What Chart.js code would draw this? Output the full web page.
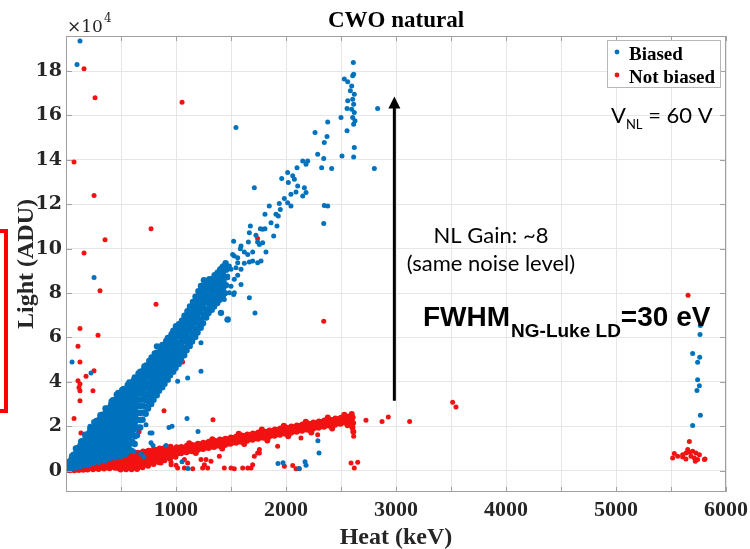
<!DOCTYPE html>
<html>
<head>
<meta charset="utf-8">
<script src="https://cdn.jsdelivr.net/npm/chart.js@4.4.0/dist/chart.umd.min.js"></script>
<style>
  body { margin: 0; background: #fff; }
  canvas { display: block; }
</style>
</head>
<body>
<canvas id="cwoChart" width="750" height="549"></canvas>
<script>
// Axis ticks (heat in keV, light in units of 1e4 ADU)
const heatTicks = [500, 1000, 1500, 2000, 2500, 3000, 3500, 4000, 4500, 5000, 5500, 6000];
const lightTicks = [0, 2, 4, 6, 8, 10, 12, 14, 16, 18];

// Biased: dense fan near the origin, 0-1000 keV
const biasedFan = [
  [12,0.06],[18,0.22],[25,0.35],[31,0.15],[29,0.4],
  [46,0.1],[52,0.3],[48,0.5],[55,0.65],
  [70,0.22],[72,0.48],[69,0.72],
  [86,0.14],[93,0.36],[88,0.58],[95,0.8],[90,1.0],
  [110,0.25],[112,0.5],[109,0.76],[111,1.02],
  [126,0.2],[133,0.44],[128,0.68],[136,0.92],[131,1.14],[138,1.32],
  [150,0.32],[152,0.58],[149,0.84],[151,1.1],[153,1.34],
  [166,0.25],[173,0.5],[168,0.75],[176,1.0],[171,1.22],[178,1.44],[174,1.62],
  [190,0.4],[192,0.66],[189,0.92],[191,1.16],[193,1.4],[190,1.62],
  [206,0.3],[213,0.55],[208,0.8],[216,1.05],[211,1.28],[218,1.5],[214,1.72],[221,1.9],
  [230,0.44],[232,0.7],[229,0.96],[231,1.22],[233,1.46],[230,1.7],[232,1.92],
  [246,0.35],[253,0.6],[248,0.85],[256,1.1],[251,1.35],[258,1.58],[254,1.8],[261,2.0],[257,2.18],
  [275,0.5],[277,0.78],[274,1.04],[276,1.3],[278,1.54],[275,1.78],[277,2.02],[276,2.24],
  [296,0.4],[303,0.66],[298,0.92],[306,1.18],[301,1.42],[308,1.66],[304,1.9],[311,2.12],[307,2.32],[313,2.5],
  [325,0.54],[327,0.8],[324,1.06],[326,1.32],[328,1.58],[325,1.82],[327,2.06],[326,2.3],[328,2.52],
  [346,0.45],[353,0.72],[348,0.98],[356,1.24],[351,1.5],[358,1.74],[354,1.98],[361,2.2],[357,2.42],[363,2.62],[359,2.8],
  [375,0.6],[377,0.86],[374,1.12],[376,1.38],[378,1.62],[375,1.86],[377,2.1],[376,2.34],[378,2.58],[376,2.8],
  [396,0.55],[403,0.82],[398,1.08],[406,1.34],[401,1.6],[408,1.86],[404,2.1],[411,2.34],[407,2.56],[413,2.78],[409,2.96],[415,3.12],
  [425,0.7],[427,0.98],[424,1.26],[426,1.54],[428,1.8],[425,2.06],[427,2.3],[426,2.54],[428,2.78],[426,3.0],[427,3.18],
  [446,0.6],[453,0.88],[448,1.16],[456,1.44],[451,1.7],[458,1.96],[454,2.2],[461,2.44],[457,2.68],[463,2.9],[459,3.1],[465,3.28],[461,3.42],
  [475,0.76],[477,1.04],[474,1.32],[476,1.6],[478,1.86],[475,2.12],[477,2.38],[476,2.62],[478,2.86],[476,3.08],[477,3.3],[475,3.5],
  [496,0.66],[503,0.95],[498,1.24],[506,1.52],[501,1.8],[508,2.06],[504,2.32],[511,2.56],[507,2.8],[513,3.02],[509,3.24],[515,3.44],[511,3.64],
  [525,0.84],[527,1.12],[524,1.42],[526,1.7],[528,1.98],[525,2.24],[527,2.5],[526,2.76],[528,3.0],[526,3.24],[527,3.46],[525,3.68],
  [546,0.75],[553,1.05],[548,1.35],[556,1.64],[551,1.92],[558,2.2],[554,2.46],[561,2.72],[557,2.96],[563,3.2],[559,3.42],[565,3.64],[561,3.86],
  [575,0.95],[577,1.2],[574,1.5],[576,1.8],[578,2.08],[575,2.36],[577,2.62],[576,2.88],[578,3.12],[576,3.36],[577,3.58],[575,3.8],[576,3.98],
  [596,0.9],[603,1.3],[598,1.7],[606,2.0],[601,2.3],[608,2.58],[604,2.84],[611,3.1],[607,3.36],[613,3.6],[609,3.84],[615,4.06],
  [625,1.2],[627,1.55],[624,1.88],[626,2.18],[628,2.46],[625,2.74],[627,3.0],[626,3.26],[628,3.52],[626,3.76],[627,3.98],[625,4.2],
  [646,1.6],[653,1.95],[648,2.3],[656,2.6],[651,2.9],[658,3.18],[654,3.46],[661,3.72],[657,3.96],[663,4.2],[659,4.38],
  [675,1.95],[677,2.28],[674,2.6],[676,2.9],[678,3.2],[675,3.48],[677,3.74],[676,4.0],[678,4.24],[676,4.46],
  [696,2.3],[703,2.62],[698,2.94],[706,3.24],[701,3.52],[708,3.8],[704,4.06],[711,4.32],[707,4.54],[713,4.7],
  [725,2.56],[727,2.88],[724,3.18],[726,3.46],[728,3.74],[725,4.0],[727,4.26],[726,4.5],[728,4.74],
  [746,2.8],[753,3.12],[748,3.42],[756,3.7],[751,3.98],[758,4.24],[754,4.5],[761,4.74],[757,4.94],
  [775,3.0],[777,3.32],[774,3.62],[776,3.9],[778,4.18],[775,4.44],[777,4.7],[776,4.94],[778,5.1],
  [796,3.2],[803,3.52],[798,3.82],[806,4.1],[801,4.38],[808,4.64],[804,4.9],[811,5.12],[807,5.28],
  [825,3.4],[827,3.72],[824,4.02],[826,4.3],[828,4.58],[825,4.84],[827,5.1],[826,5.32],
  [846,3.6],[853,3.92],[848,4.22],[856,4.5],[851,4.78],[858,5.04],[854,5.3],[861,5.52],
  [875,3.76],[877,4.08],[874,4.38],[876,4.66],[878,4.94],[875,5.2],[877,5.44],[876,5.66],
  [896,3.92],[903,4.24],[898,4.54],[906,4.82],[901,5.1],[908,5.36],[904,5.62],[911,5.84],
  [925,4.1],[927,4.42],[924,4.72],[926,5.0],[928,5.28],[925,5.54],[927,5.78],[926,5.98],
  [946,4.3],[953,4.62],[948,4.92],[956,5.2],[951,5.48],[958,5.74],[954,5.98],[961,6.16],
  [975,4.46],[977,4.78],[974,5.08],[976,5.36],[978,5.64],[975,5.9],[977,6.14],[976,6.3],
  [996,4.62],[1003,4.94],[998,5.24],[1006,5.52],[1001,5.8],[1008,6.06],[1004,6.3],[1011,6.46]
];

// Biased: main band 1000-1500 keV
const biasedBand = [
  [1025,4.8],[1027,5.12],[1024,5.44],[1026,5.76],[1028,6.06],[1025,6.34],[1027,6.6],
  [1046,5.0],[1053,5.32],[1048,5.62],[1056,5.92],[1051,6.22],[1058,6.5],[1054,6.76],
  [1075,5.2],[1077,5.52],[1074,5.84],[1076,6.14],[1078,6.44],[1075,6.72],[1077,6.98],
  [1096,5.42],[1103,5.74],[1098,6.06],[1106,6.36],[1101,6.66],[1108,6.94],[1104,7.18],
  [1125,5.62],[1127,5.96],[1124,6.28],[1126,6.58],[1128,6.88],[1125,7.16],[1127,7.4],
  [1146,5.82],[1153,6.16],[1148,6.48],[1156,6.8],[1151,7.1],[1158,7.38],[1154,7.6],
  [1175,6.02],[1177,6.36],[1174,6.7],[1176,7.02],[1178,7.32],[1175,7.6],[1177,7.84],
  [1196,6.22],[1203,6.56],[1198,6.9],[1206,7.22],[1201,7.52],[1208,7.82],[1204,8.08],
  [1225,6.44],[1227,6.8],[1224,7.14],[1226,7.46],[1228,7.78],[1225,8.06],[1227,8.32],
  [1246,6.64],[1253,7.0],[1248,7.34],[1256,7.66],[1251,7.98],[1258,8.3],[1254,8.58],
  [1275,6.9],[1277,7.24],[1274,7.58],[1276,7.9],[1278,8.2],[1275,8.5],
  [1296,7.1],[1304,7.45],[1299,7.8],[1306,8.15],[1301,8.45],
  [1325,7.25],[1327,7.6],[1324,7.95],[1326,8.3],[1328,8.62],
  [1346,7.4],[1354,7.75],[1349,8.1],[1356,8.45],[1351,8.8],
  [1375,7.55],[1377,7.9],[1374,8.25],[1376,8.6],[1378,8.92],
  [1396,7.7],[1404,8.05],[1399,8.4],[1406,8.75],[1401,9.05],
  [1425,7.85],[1427,8.2],[1424,8.55],[1426,8.9],[1428,9.2],
  [1446,8.0],[1454,8.35],[1449,8.7],[1456,9.05],[1451,9.35],
  [1303,8.62],[1348,8.31],[1258,8.16],[1288,7.86],[1197,7.71],[1227,7.49],[1152,7.41],
  [1167,7.11],[1106,7.04],[1076,6.81],[1136,6.73],[1045,6.51],[1000,6.51],[1091,6.36],
  [1015,6.21],[955,6.06],[985,5.83],[924,5.76],[1409,7.11],[1318,7.34],[1470,6.81],[827,5.6]
];

// Biased: upper band 1250-2630 keV and the cluster at ~2600 keV
const biasedUpper = [
  [2612,18.39],[2530,17.64],[2561,17.52],[2606,17.79],[2615,17.86],[2597,17.33],[2585,17.11],
  [2621,16.96],[2606,16.73],[2561,16.66],[2615,16.51],[2597,16.28],[2555,16.31],[2621,16.13],
  [2606,15.91],[2627,15.76],[2615,15.61],[2500,15.91],[2555,15.31],[2621,14.56],[2509,14.18],
  [2615,14.13],[2379,15.71],[2264,15.23],[2348,14.78],[2373,15.05],[2288,14.25],[2343,14.06],
  [2324,13.65],[2415,13.61],[2197,13.95],[2182,13.8],[2152,13.95],[2100,13.65],[2015,13.43],
  [1961,13.16],[2021,12.98],[2061,13.28],[2076,13.13],[2106,12.82],[2091,12.55],[2167,12.75],
  [2182,12.53],[2152,12.37],[2045,12.45],[1985,12.26],[1939,12.04],[1848,11.92],[2015,12.07],
  [2045,11.92],[1948,11.77],[1930,11.47],[1909,11.55],[1809,11.55],[1864,11.17],[1918,11.02],
  [1767,10.9],[1788,10.87],[1809,10.9],[1888,10.57],[1727,10.6],[1676,11.02],[1658,10.3],
  [1742,10.3],[1758,10.19],[1788,10.27],[1524,10.34],[1585,10.0],[1621,9.85],[1697,9.85],
  [1818,9.85],[1515,9.74],[1561,9.59],[1667,9.4],[1697,9.44],[1742,9.37],[1773,9.44],
  [1621,9.34],[1455,9.14],[1485,9.22],[1545,9.14],[1591,9.07],[1409,8.92],[1424,8.69],
  [1470,8.77],[1530,8.62],[1561,8.8],[1318,8.65],[1379,8.43],[1439,8.49],[1500,8.31],
  [1591,8.39],[1348,8.16],[1424,8.16],[1485,8.02],[1530,8.02],[1273,7.94],[1318,7.79],
  [1258,7.71],[1379,7.56],[1439,7.71],[1524,7.94],[1667,7.79],
  [1667,10.72],[1591,10.12],[1652,9.74],[1530,9.67],[1561,9.37],[1500,9.07],[1409,9.14],
  [1470,8.69],[1379,8.62]
];

// Biased: isolated events
const biasedSparse = [
  [127,19.35],[100,18.3],[1545,15.46],[255,8.7],[55,4.9],[227,4.4],[2833,16.31],[2803,13.61],
  [1712,12.75],[2348,11.95],[2379,11.92],[2343,11.13],[1718,7.1],[1464,6.8],[1227,5.76],
  [1227,4.48],[1015,4.03],[1106,4.18],[1100,2.35],[1200,1.76],[964,2.0],[936,1.94],[727,2.07],
  [218,2.0],[764,1.7],[782,1.7],[773,1.26],[791,1.13],[909,1.13],[709,0.63],[620,0.85],
  [680,0.75],[1055,0.4],[1109,0.1],[1927,0.32],[1973,0.36],[2118,0.1],[2173,0.4],[2182,0.24],
  [2290,1.35],[2300,0.8]
];

// Biased: events near 5700 keV
const biasedRight = [
  [5767,6.54],[5764,6.13],[5697,5.28],[5761,5.11],[5742,4.89],[5742,4.1],[5758,3.83],
  [5736,3.61],[5767,2.5],[5697,2.03]
];

// Not biased: base of the band, 0-1000 keV
const notBiasedBase = [
  [8,0.04],[12,0.16],[6,0.26],[22,0.1],[24,0.3],
  [36,0.02],[42,0.14],[38,0.26],[44,0.36],
  [60,0.08],[62,0.22],[58,0.34],
  [76,0.02],[83,0.14],[78,0.26],[85,0.38],
  [100,0.08],[102,0.22],[98,0.36],
  [116,0.03],[123,0.15],[118,0.27],[125,0.4],
  [140,0.1],[142,0.24],[138,0.38],
  [156,0.04],[163,0.17],[158,0.3],[165,0.44],
  [180,0.1],[182,0.25],[178,0.4],
  [196,0.05],[203,0.18],[198,0.32],[205,0.46],
  [225,0.12],[227,0.27],[223,0.44],
  [246,0.06],[253,0.2],[248,0.34],[256,0.5],
  [275,0.14],[277,0.29],[273,0.46],
  [296,0.08],[303,0.22],[298,0.37],[306,0.53],
  [325,0.16],[327,0.31],[323,0.49],
  [346,0.1],[353,0.24],[348,0.4],[356,0.56],
  [375,0.17],[377,0.33],[373,0.5],
  [396,0.11],[403,0.26],[398,0.42],[406,0.59],
  [425,0.19],[427,0.35],[423,0.54],
  [446,0.13],[453,0.29],[448,0.46],[456,0.62],
  [475,0.12],[477,0.3],[473,0.5],[476,0.66],
  [496,0.05],[503,0.2],[498,0.36],[506,0.52],[501,0.68],
  [525,0.13],[527,0.3],[524,0.48],[526,0.66],
  [546,0.06],[553,0.22],[548,0.39],[556,0.56],[551,0.72],
  [575,0.14],[577,0.33],[574,0.51],[576,0.7],
  [596,0.06],[603,0.24],[598,0.42],[606,0.6],[601,0.77],
  [625,0.16],[627,0.36],[624,0.55],[626,0.74],
  [646,0.08],[653,0.27],[648,0.46],[656,0.64],[651,0.81],
  [675,0.22],[677,0.42],[674,0.6],[676,0.79],
  [696,0.16],[703,0.34],[698,0.52],[706,0.7],[701,0.86],
  [725,0.3],[727,0.48],[724,0.66],[726,0.84],
  [746,0.22],[753,0.4],[748,0.58],[756,0.75],[751,0.9],
  [775,0.38],[777,0.56],[774,0.73],[776,0.88],
  [796,0.3],[803,0.48],[798,0.65],[806,0.81],[801,0.95],
  [825,0.46],[827,0.63],[824,0.79],[826,0.93],
  [846,0.38],[853,0.55],[848,0.71],[856,0.86],[851,1.0],
  [875,0.54],[877,0.7],[874,0.85],[876,0.98],
  [896,0.47],[903,0.63],[898,0.78],[906,0.92],[901,1.04],
  [925,0.62],[927,0.77],[924,0.91],[926,1.02],
  [946,0.55],[953,0.7],[948,0.85],[956,0.98],[951,1.08],
  [975,0.7],[977,0.84],[974,0.97],
  [996,0.63],[1003,0.79],[998,0.93],[1006,1.06]
];

// Not biased: band 1000-2600 keV
const notBiasedBand = [
  [1025,0.8],[1027,1.0],[1046,0.78],[1053,0.93],[1049,1.07],
  [1075,0.86],[1077,1.03],[1096,0.83],[1103,0.97],[1099,1.12],
  [1125,0.9],[1127,1.09],[1146,0.88],[1153,1.02],[1149,1.16],
  [1175,0.95],[1177,1.14],[1196,0.93],[1203,1.07],[1199,1.21],
  [1225,1.0],[1227,1.19],[1246,0.98],[1253,1.12],[1249,1.26],
  [1275,1.05],[1277,1.23],[1296,1.02],[1303,1.16],[1299,1.3],
  [1325,1.09],[1327,1.28],[1346,1.07],[1353,1.21],[1349,1.35],
  [1375,1.14],[1377,1.33],[1396,1.12],[1403,1.26],[1399,1.4],
  [1425,1.19],[1427,1.37],[1446,1.16],[1453,1.3],[1449,1.44],
  [1475,1.23],[1477,1.42],[1496,1.21],[1503,1.35],[1499,1.49],
  [1525,1.28],[1527,1.47],[1546,1.26],[1553,1.4],[1549,1.54],
  [1575,1.32],[1577,1.51],[1596,1.3],[1603,1.44],[1599,1.58],
  [1625,1.37],[1627,1.56],[1646,1.35],[1653,1.49],[1649,1.63],
  [1675,1.42],[1677,1.6],[1696,1.39],[1703,1.53],[1699,1.67],
  [1725,1.46],[1727,1.65],[1746,1.44],[1753,1.58],[1749,1.72],
  [1775,1.51],[1777,1.69],[1796,1.48],[1803,1.62],[1799,1.76],
  [1825,1.55],[1827,1.74],[1846,1.53],[1853,1.67],[1849,1.81],
  [1875,1.6],[1877,1.78],[1896,1.57],[1903,1.71],[1899,1.85],
  [1925,1.64],[1927,1.83],[1946,1.62],[1953,1.76],[1949,1.9],
  [1975,1.69],[1977,1.87],[1996,1.66],[2003,1.8],[1999,1.94],
  [2025,1.73],[2027,1.92],[2046,1.71],[2053,1.85],[2049,1.99],
  [2075,1.78],[2077,1.96],[2096,1.75],[2103,1.89],[2099,2.03],
  [2125,1.82],[2127,2.01],[2146,1.8],[2153,1.94],[2149,2.08],
  [2175,1.87],[2177,2.05],[2196,1.84],[2203,1.98],[2199,2.12],
  [2225,1.91],[2227,2.1],[2246,1.89],[2253,2.03],[2249,2.17],
  [2275,1.96],[2277,2.14],[2296,1.93],[2303,2.07],[2299,2.21],
  [2325,2.0],[2327,2.19],[2346,1.98],[2353,2.12],[2349,2.26],
  [2375,2.05],[2377,2.23],[2396,2.02],[2403,2.16],[2399,2.3],
  [2425,2.09],[2427,2.28],[2446,2.07],[2453,2.21],[2449,2.35],
  [2475,2.14],[2477,2.32],[2496,2.11],[2503,2.25],[2499,2.39],
  [2525,2.18],[2527,2.37],[2546,2.16],[2553,2.3],[2549,2.44],
  [2575,2.23],[2577,2.41],[2586,2.2],[2593,2.34],[2589,2.48],
  [1120,1.24],[1180,0.8],[1330,1.42],[1420,1.0],[1570,1.66],[1620,1.2],
  [1780,1.85],[1830,1.36],[1980,2.02],[2020,1.55],[2180,2.2],[2230,1.72],
  [2380,2.4],[2420,1.9],[2530,2.52],[2560,2.05],
  [2598,2.55],[2606,2.4],[2610,2.15],[2604,1.95],[2612,1.75]
];

// Not biased: isolated events
const notBiasedSparse = [
  [164,18.1],[264,16.8],[1055,16.6],[73,13.9],[255,12.4],[773,10.9],[355,10.4],[164,9.8],
  [1742,10.46],[309,8.1],[818,7.5],[1391,8.0],[2343,6.73],[127,6.4],[291,6.1],[109,5.6],
  [127,4.9],[1060,4.9],[255,4.5],[182,4.25],[109,4.05],[127,3.9],[118,3.75],[127,3.6],
  [245,3.6],[127,3.15],[73,2.35],[136,1.7],[236,1.6],[382,1.58],[555,1.82],[664,1.75],
  [891,2.7],[1336,2.3],
  [864,0.35],[955,0.27],[1076,0.5],[1106,0.35],[1227,0.5],[1258,0.27],[1288,0.12],
  [1394,0.65],[1500,0.12],[1606,0.12],[1697,0.27],[1712,0.65],[1758,0.8],[1015,0.12],
  [1076,0.12],[1152,0.09],[1242,0.12],[1273,0.5],[1318,0.42],[1439,0.12],[1530,0.09],
  [1652,0.12],[955,0.38],[1000,0.24],[1682,0.12],[1742,0.8],[1758,0.95],[1924,1.1],
  [1985,0.2],[2061,0.23],[2091,0.09],[2121,0.09],[2136,1.47],[2288,1.62],[2591,0.35],
  [2621,0.12],[2652,0.38],[2615,1.55],[2727,2.27],[2873,2.22],[2930,2.42],[3124,2.21],
  [3515,3.08],[3545,2.87]
];

// Not biased: events near 5600 keV
const notBiasedRight = [
  [5655,7.9],[5667,1.32],[5530,0.77],[5515,0.57],[5561,0.65],[5606,0.62],[5636,0.8],
  [5652,0.95],[5667,0.83],[5697,0.87],[5727,0.8],[5758,0.72],[5682,0.65],[5712,0.57],
  [5721,0.42],[5742,0.5],[5809,0.53],[5636,0.53],[5606,0.72],[5803,0.5]
];

const toXY = pts => pts.map(p => ({ x: p[0], y: p[1] }));
const biased = [...biasedFan, ...biasedBand, ...biasedUpper, ...biasedSparse, ...biasedRight];
const notBiased = [...notBiasedBase, ...notBiasedBand, ...notBiasedSparse, ...notBiasedRight];

// the packed cores are drawn a bit larger so the overlapping cloud looks solid
const biasedCore = biasedFan.length + biasedBand.length;
const notBiasedCore = notBiasedBase.length + notBiasedBand.length;

const serif = '"Liberation Serif", "Times New Roman", serif';
const frameColor = '#a0a0a0';

// Frame, texts and annotations drawn on top of the chart
const decorations = {
  id: 'decorations',
  afterDatasetsDraw(chart) {
    const { ctx, chartArea: a, scales } = chart;
    ctx.save();
    ctx.strokeStyle = frameColor;
    ctx.lineWidth = 1;
    ctx.strokeRect(a.left + 0.5, a.top + 0.5, a.right - a.left - 1, a.bottom - a.top - 1);
    ctx.beginPath();
    heatTicks.forEach(v => {
      const x = Math.round(scales.x.getPixelForValue(v)) + 0.5;
      ctx.moveTo(x, a.bottom); ctx.lineTo(x, a.bottom - 5);
      ctx.moveTo(x, a.top); ctx.lineTo(x, a.top + 5);
    });
    lightTicks.forEach(v => {
      const y = Math.round(scales.y.getPixelForValue(v)) + 0.5;
      ctx.moveTo(a.left, y); ctx.lineTo(a.left + 6, y);
      ctx.moveTo(a.right, y); ctx.lineTo(a.right - 6, y);
    });
    ctx.stroke();
    ctx.restore();
  },
  afterDraw(chart) {
    const { ctx, chartArea: a, scales } = chart;
    const cx = (a.left + a.right) / 2;
    ctx.save();
    ctx.fillStyle = '#000';

    // title and axis labels
    ctx.textAlign = 'center';
    ctx.textBaseline = 'alphabetic';
    ctx.font = 'bold 23px ' + serif;
    ctx.fillText('CWO natural', cx, 27);
    ctx.fillStyle = '#262626';
    ctx.font = 'bold 24px ' + serif;
    ctx.fillText('Heat (keV)', cx, 544);
    ctx.save();
    ctx.translate(33, (a.top + a.bottom) / 2);
    ctx.rotate(-Math.PI / 2);
    ctx.fillText('Light (ADU)', 0, 0);
    ctx.restore();

    // exponent label
    ctx.textAlign = 'left';
    ctx.font = '17px "DejaVu Serif", serif';
    ctx.fillText('\u00d710', 67, 32);
    const ew = ctx.measureText('\u00d710').width;
    ctx.font = '12px "DejaVu Serif", serif';
    ctx.fillText('4', 67 + ew + 1, 22);

    // legend
    const lx = 607, ly = 40, lw = 113, lh = 47;
    ctx.fillStyle = '#fff';
    ctx.fillRect(lx, ly, lw, lh);
    ctx.strokeStyle = '#b8b8b8';
    ctx.lineWidth = 1;
    ctx.strokeRect(lx + 0.5, ly + 0.5, lw, lh);
    ctx.font = 'bold 19px ' + serif;
    chart.data.datasets.forEach((ds, i) => {
      const yy = ly + 12 + i * 23;
      ctx.fillStyle = ds.backgroundColor;
      ctx.beginPath();
      ctx.arc(lx + 10, yy, 2.4, 0, Math.PI * 2);
      ctx.fill();
      ctx.fillStyle = '#000';
      ctx.fillText(ds.label, lx + 22, yy + 8);
    });

    // V_NL label
    ctx.font = '22px Lato, "Open Sans", sans-serif';
    let x = 611;
    ctx.fillText('V', x, 123);
    x += ctx.measureText('V').width;
    ctx.font = '13px Lato, "Open Sans", sans-serif';
    ctx.fillText('NL', x, 129);
    x += ctx.measureText('NL').width;
    ctx.font = '22px Lato, "Open Sans", sans-serif';
    ctx.fillText(' = 60 V', x, 123);

    // gain annotation
    ctx.textAlign = 'center';
    ctx.fillText('NL Gain: ~8', 491, 243);
    ctx.fillText('(same noise level)', 491, 271);

    // resolution annotation
    ctx.textAlign = 'left';
    const bold = '"Liberation Sans", Arial, sans-serif';
    x = 423;
    ctx.font = 'bold 28px ' + bold;
    ctx.fillText('FWHM', x, 326);
    x += ctx.measureText('FWHM').width + 1;
    ctx.font = 'bold 19px ' + bold;
    ctx.fillText('NG-Luke LD', x, 337);
    x += ctx.measureText('NG-Luke LD').width;
    ctx.font = 'bold 28px ' + bold;
    ctx.fillText('=30 eV', x, 326);

    // gain arrow
    const ax = scales.x.getPixelForValue(2985);
    const y0 = scales.y.getPixelForValue(3.15);
    const y1 = scales.y.getPixelForValue(16.85);
    ctx.strokeStyle = '#000';
    ctx.lineWidth = 3;
    ctx.beginPath();
    ctx.moveTo(ax, y0);
    ctx.lineTo(ax, y1 + 10);
    ctx.stroke();
    ctx.beginPath();
    ctx.moveTo(ax, y1);
    ctx.lineTo(ax - 6, y1 + 12);
    ctx.lineTo(ax + 6, y1 + 12);
    ctx.closePath();
    ctx.fillStyle = '#000';
    ctx.fill();

    // red bracket at the left edge
    ctx.strokeStyle = '#ff0000';
    ctx.lineWidth = 4;
    ctx.strokeRect(-20, 231, 26, 180);
    ctx.restore();
  }
};

new Chart(document.getElementById('cwoChart'), {
  type: 'scatter',
  data: {
    datasets: [
      {
        label: 'Biased',
        data: toXY(biased),
        backgroundColor: '#0072bd',
        borderWidth: 0,
        pointRadius: c => (c.dataIndex < biasedCore ? 3.2 : 2.5)
      },
      {
        label: 'Not biased',
        data: toXY(notBiased),
        backgroundColor: '#f21212',
        borderWidth: 0,
        pointRadius: c => (c.dataIndex < notBiasedCore ? 3.0 : 2.5)
      }
    ]
  },
  options: {
    responsive: false,
    animation: false,
    devicePixelRatio: 1,
    layout: { padding: { left: 0, right: 24, top: 36, bottom: 0 } },
    plugins: {
      legend: { display: false },
      title: { display: false },
      tooltip: { enabled: false }
    },
    scales: {
      x: {
        type: 'linear',
        min: 0,
        max: 6000,
        afterBuildTicks: s => { s.ticks = heatTicks.map(v => ({ value: v })); },
        afterFit: s => { s.height = 57; s.paddingLeft = 0; s.paddingRight = 0; },
        border: { display: false },
        grid: { color: '#e6e6e6', drawTicks: false },
        ticks: {
          autoSkip: false,
          maxRotation: 0,
          padding: 5,
          color: '#262626',
          font: { family: serif, size: 22, weight: 'bold' },
          callback: v => (v % 1000 === 0 ? String(v) : '')
        }
      },
      y: {
        type: 'linear',
        min: -0.96,
        max: 19.58,
        afterBuildTicks: s => { s.ticks = lightTicks.map(v => ({ value: v })); },
        afterFit: s => { s.width = 66; s.paddingTop = 0; s.paddingBottom = 0; },
        border: { display: false },
        grid: { color: '#e6e6e6', drawTicks: false },
        ticks: {
          padding: 4,
          color: '#262626',
          font: { family: '"DejaVu Serif", serif', size: 19, weight: 'bold' },
          callback: v => String(v)
        }
      }
    }
  },
  plugins: [decorations]
});
</script>
</body>
</html>
